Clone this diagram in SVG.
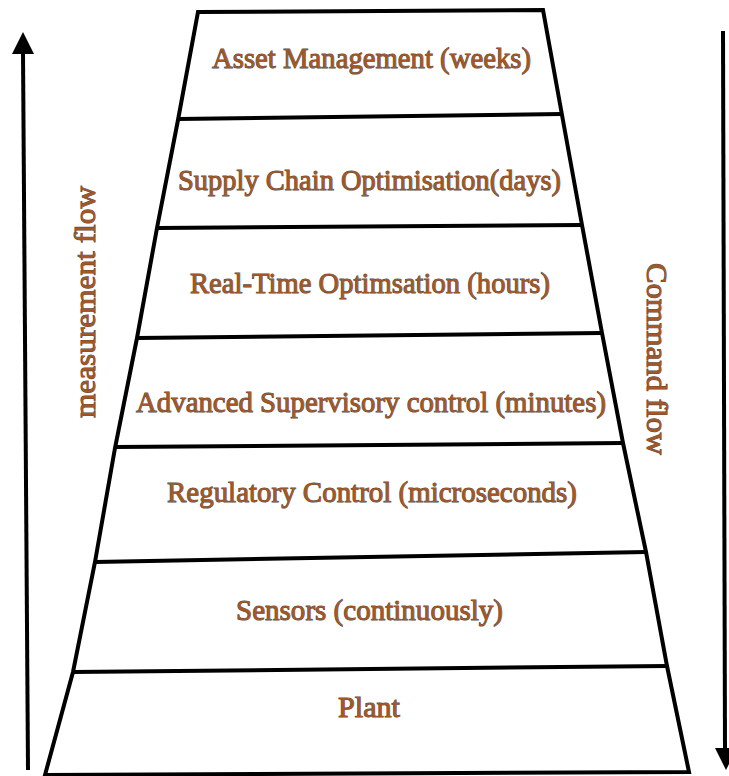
<svg xmlns="http://www.w3.org/2000/svg" width="729" height="776" viewBox="0 0 729 776">
  <style>
    .edge { fill: none; stroke: #000; stroke-width: 4; stroke-linejoin: miter; stroke-linecap: butt; }
    .div { fill: none; stroke: #000; stroke-width: 4; }
    .lbl { font-family: "Liberation Serif", "DejaVu Serif", serif; font-size: 30px; fill: #a35726; stroke: #5a4c42; stroke-width: 1; paint-order: stroke; }
    .shaft { stroke: #000; stroke-width: 4; fill: none; }
    .head { fill: #000; }
  </style>
  <rect width="729" height="776" fill="#fff"/>

  <!-- pyramid outline -->
  <g id="pyramid">
    <path class="edge" d="M198,12 L543,10 L562,115 L582,225 L602,333 L623,443 L646,552 L667,666 L689,772 L45,775 L73,672 L95,562 L115,448 L137,338 L157,228 L178,120 Z"/>
  </g>

  <!-- layers, top to bottom -->
  <g id="asset-management">
    <text class="lbl" x="212" y="68" textLength="319" lengthAdjust="spacingAndGlyphs">Asset Management (weeks)</text>
    <line class="div" x1="178" y1="119" x2="562" y2="114"/>
  </g>
  <g id="supply-chain">
    <text class="lbl" x="178" y="190" textLength="383" lengthAdjust="spacingAndGlyphs">Supply Chain Optimisation(days)</text>
    <line class="div" x1="157" y1="228" x2="582" y2="225"/>
  </g>
  <g id="real-time">
    <text class="lbl" x="190" y="293" textLength="360" lengthAdjust="spacingAndGlyphs">Real-Time Optimsation (hours)</text>
    <line class="div" x1="137" y1="338" x2="602" y2="333"/>
  </g>
  <g id="supervisory">
    <text class="lbl" x="136" y="412" textLength="470" lengthAdjust="spacingAndGlyphs">Advanced Supervisory control (minutes)</text>
    <line class="div" x1="115" y1="447" x2="623" y2="443"/>
  </g>
  <g id="regulatory">
    <text class="lbl" x="167" y="502" textLength="410" lengthAdjust="spacingAndGlyphs">Regulatory Control (microseconds)</text>
    <line class="div" x1="95" y1="562" x2="646" y2="552"/>
  </g>
  <g id="sensors">
    <text class="lbl" x="236" y="620" textLength="267" lengthAdjust="spacingAndGlyphs">Sensors (continuously)</text>
    <line class="div" x1="73" y1="672" x2="667" y2="666"/>
  </g>
  <g id="plant">
    <text class="lbl" x="338" y="717" textLength="62" lengthAdjust="spacingAndGlyphs">Plant</text>
  </g>

  <!-- flow arrows -->
  <g id="connectors">
    <g id="measurement-flow">
      <line class="shaft" x1="28" y1="770" x2="23" y2="52"/>
      <polygon class="head" points="23,32 12,54 34,54"/>
      <text class="lbl" transform="translate(95,418) rotate(-90)" x="0" y="0" textLength="232" lengthAdjust="spacingAndGlyphs">measurement flow</text>
    </g>
    <g id="command-flow">
      <line class="shaft" x1="723" y1="31" x2="725" y2="750"/>
      <polygon class="head" points="726,770 715,748 737,748"/>
      <text class="lbl" transform="translate(647,263) rotate(90)" x="0" y="0" textLength="192" lengthAdjust="spacingAndGlyphs">Command flow</text>
    </g>
  </g>
</svg>
